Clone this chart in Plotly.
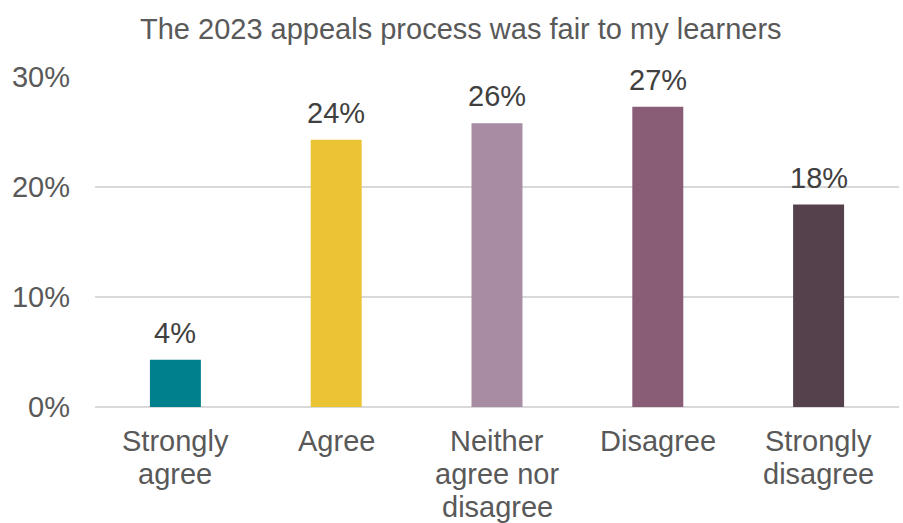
import plotly.graph_objects as go

# Survey responses: "The 2023 appeals process was fair to my learners"
categories = ["Strongly agree", "Agree", "Neither agree nor disagree", "Disagree", "Strongly disagree"]
category_lines = [["Strongly", "agree"], ["Agree"], ["Neither", "agree nor", "disagree"],
                  ["Disagree"], ["Strongly", "disagree"]]
shares = [4.3, 24.3, 25.8, 27.3, 18.4]  # percent of respondents
bar_colors = ["#00808C", "#EAC435", "#A78CA3", "#895D75", "#54414C"]
y_ticks = [0, 10, 20, 30]
y_tick_labels = ["0%", "10%", "20%", "30%"]

FONT = "Arial, Liberation Sans, sans-serif"
GREY = "#595959"
DARK = "#404040"
FS = 29

fig = go.Figure(
    go.Bar(
        x=categories,
        y=shares,
        marker=dict(color=bar_colors, line=dict(width=0)),
        hoverinfo="skip",
    )
)

# Value labels above each bar
for cat, v in zip(categories, shares):
    fig.add_annotation(
        x=cat, xref="x", y=v, yref="y",
        yanchor="bottom", yshift=9,
        text=f"{round(v)}%", showarrow=False,
        font=dict(family=FONT, size=FS, color=DARK),
    )

# Category labels, one annotation per line to keep tight line spacing
line_gap = 33
for cat, lines in zip(categories, category_lines):
    for i, line in enumerate(lines):
        fig.add_annotation(
            x=cat, xref="x", y=0, yref="paper",
            yanchor="top", yshift=-(16 + i * line_gap),
            text=line, showarrow=False,
            font=dict(family=FONT, size=FS, color=GREY),
        )

fig.add_annotation(
    text="The 2023 appeals process was fair to my learners",
    xref="paper", x=(461 - 95) / 804, yref="paper", y=1, yshift=48,
    yanchor="middle", showarrow=False,
    font=dict(family=FONT, size=FS, color=GREY),
)

fig.update_layout(
    width=903, height=523,
    margin=dict(l=95, r=4, t=77, b=116),
    paper_bgcolor="white", plot_bgcolor="white",
    bargap=0.683,
    showlegend=False,
    xaxis=dict(showticklabels=False, showline=False, ticks="", showgrid=False, zeroline=False),
    yaxis=dict(
        range=[0, 30],
        tickvals=y_ticks, ticktext=y_tick_labels,
        tickfont=dict(family=FONT, size=FS, color=GREY),
        showgrid=True, gridcolor="#D9D9D9", gridwidth=2,
        zeroline=True, zerolinecolor="#D9D9D9", zerolinewidth=2,
        showline=False, ticks="", ticklabelstandoff=24,
    ),
)

fig.write_html("out.html")
